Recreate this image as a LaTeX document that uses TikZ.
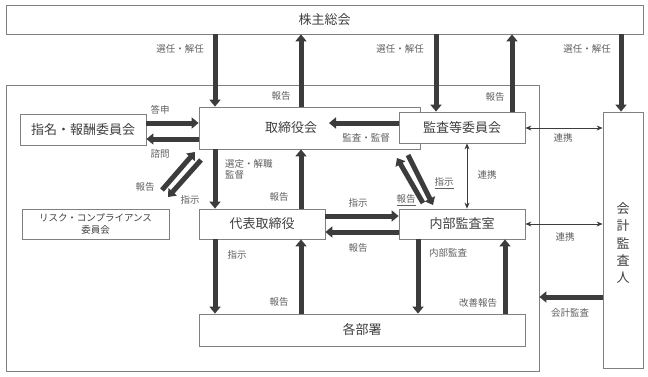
\documentclass[tikz,border=0pt]{standalone}
\usepackage{fontspec}
\setmainfont{Noto Sans CJK JP}
\usetikzlibrary{arrows.meta,calc}
\definecolor{arr}{HTML}{3C3C3C}
\definecolor{bd}{HTML}{808080}
\definecolor{tx}{HTML}{404040}
\definecolor{lb}{HTML}{606060}
\begin{document}
\begin{tikzpicture}[x=1pt,y=-1pt,
 box/.style={draw=bd, line width=0.8pt, fill=white, inner sep=0pt, text=tx, font=\fontsize{13}{15}\selectfont},
 bigarrow/.style={draw=arr, line width=5pt, -{Triangle[width=11pt,length=7pt]}},
 linkarrow/.style={draw=arr, line width=0.8pt, {Stealth[width=5pt,length=6pt]}-{Stealth[width=5pt,length=6pt]}},
 lbl/.style={text=lb, font=\fontsize{9.5}{11}\selectfont, inner sep=0pt}]
\fill[white] (0,0) rectangle (648,376);
\useasboundingbox (0,0) rectangle (648,376);

% boxes
\node[box, minimum width=637pt, minimum height=29pt] (kabu) at (324.5,19.5) {株主総会};
\node[box, fill=none, minimum width=533pt, minimum height=286pt] (outer) at (272.5,228) {};
\node[box, minimum width=221pt, minimum height=42pt] (tori) at (309.5,128) {};
\node[text=tx, font=\fontsize{13}{15}\selectfont] at (291,128) {取締役会};
\node[box, minimum width=126pt, minimum height=31pt] (kansa) at (462,127.5) {監査等委員会};
\node[box, minimum width=126pt, minimum height=31pt] (shimei) at (83,129.5) {指名・報酬委員会};
\node[box, minimum width=147pt, minimum height=30pt, align=center, font=\fontsize{9.5}{11.5}\selectfont] (risk) at (95.5,224) {リスク・コンプライアンス\\委員会};
\node[box, minimum width=126pt, minimum height=30pt] (daihyo) at (262,224) {代表取締役};
\node[box, minimum width=126pt, minimum height=30pt] (naibu) at (462,224) {内部監査室};
\node[box, minimum width=326pt, minimum height=32pt] (kakubu) at (362,330) {各部署};
\node[box, minimum width=40pt, minimum height=256pt] (kaikei) at (623,240) {};
\node[text=tx, font=\fontsize{13}{17.5}\selectfont, align=center] at (623,243) {会\\計\\監\\査\\人};

% x / y reference coordinates
\coordinate (xa) at (215,0);
\coordinate (xb) at (301,0);
\coordinate (xc) at (436,0);
\coordinate (xd) at (512,0);
\coordinate (xe) at (621,0);
\coordinate (xf) at (418,0);
\coordinate (xg) at (505,0);
\coordinate (xh) at (467,0);
\coordinate (ya) at (0,123);
\coordinate (yb) at (0,139);
\coordinate (yc) at (0,216);
\coordinate (yd) at (0,232);
\coordinate (ye) at (0,128);
\coordinate (yf) at (0,224);
\coordinate (yg) at (0,297);
\coordinate (kantoku) at (329,123);
\coordinate (r1) at (162,190);
\coordinate (r2) at (195,152);
\coordinate (r3) at (201,160);
\coordinate (r4) at (168,197);
\coordinate (n1) at (423,203);
\coordinate (n2) at (397,158);
\coordinate (n3) at (408,155);
\coordinate (n4) at (433,205);

% thick arrows
\draw[bigarrow] (kabu.south -| xa) -- (tori.north -| xa);
\draw[bigarrow] (tori.north -| xb) -- (kabu.south -| xb);
\draw[bigarrow] (kabu.south -| xc) -- (kansa.north -| xc);
\draw[bigarrow] (kansa.north -| xd) -- (kabu.south -| xd);
\draw[bigarrow] (kabu.south -| xe) -- (kaikei.north -| xe);
\draw[bigarrow] (shimei.east |- ya) -- (tori.west |- ya);
\draw[bigarrow] (tori.west |- yb) -- (shimei.east |- yb);
\draw[bigarrow] (kansa.west |- ya) -- (kantoku);
\draw[bigarrow] (tori.south -| xa) -- (daihyo.north -| xa);
\draw[bigarrow] (daihyo.north -| xb) -- (tori.south -| xb);
\draw[bigarrow] (daihyo.south -| xa) -- (kakubu.north -| xa);
\draw[bigarrow] (kakubu.north -| xb) -- (daihyo.south -| xb);
\draw[bigarrow] (daihyo.east |- yc) -- (naibu.west |- yc);
\draw[bigarrow] (naibu.west |- yd) -- (daihyo.east |- yd);
\draw[bigarrow] (naibu.south -| xf) -- (kakubu.north -| xf);
\draw[bigarrow] (kakubu.north -| xg) -- (naibu.south -| xg);
\draw[bigarrow] (kaikei.west |- yg) -- (outer.east |- yg);
\draw[bigarrow] (r1) -- (r2);
\draw[bigarrow] (r3) -- (r4);
\draw[bigarrow] (n1) -- (n2);
\draw[bigarrow] (n3) -- (n4);

% thin link arrows
\draw[linkarrow] (kansa.east |- ye) -- (kaikei.west |- ye);
\draw[linkarrow] (naibu.east |- yf) -- (kaikei.west |- yf);
\draw[linkarrow] (kansa.south -| xh) -- (naibu.north -| xh);

% labels
\node[lbl, anchor=east] at (204,49) {選任・解任};
\node[lbl] at (400,49) {選任・解任};
\node[lbl] at (587,49) {選任・解任};
\node[lbl] at (281,96) {報告};
\node[lbl] at (495,97) {報告};
\node[lbl] at (160,110) {答申};
\node[lbl] at (160,154) {諮問};
\node[lbl] at (366,138) {監査・監督};
\node[lbl, anchor=west, align=left] at (225,169) {選定・解職\\監督};
\node[lbl] at (279,197) {報告};
\node[lbl] at (145,187) {報告};
\node[lbl] at (190,200) {指示};
\node[lbl] at (237,255) {指示};
\node[lbl] at (279,302) {報告};
\node[lbl] at (358,203) {指示};
\node[lbl] at (358,248) {報告};
\node[lbl] at (406,200) {\underline{報告}};
\node[lbl] at (444,183) {\underline{指示}};
\node[lbl] at (487,175) {連携};
\node[lbl] at (563,138) {連携};
\node[lbl] at (565,237) {連携};
\node[lbl] at (448,253) {内部監査};
\node[lbl] at (478,303) {改善報告};
\node[lbl] at (570,313) {会計監査};
\end{tikzpicture}
\end{document}
